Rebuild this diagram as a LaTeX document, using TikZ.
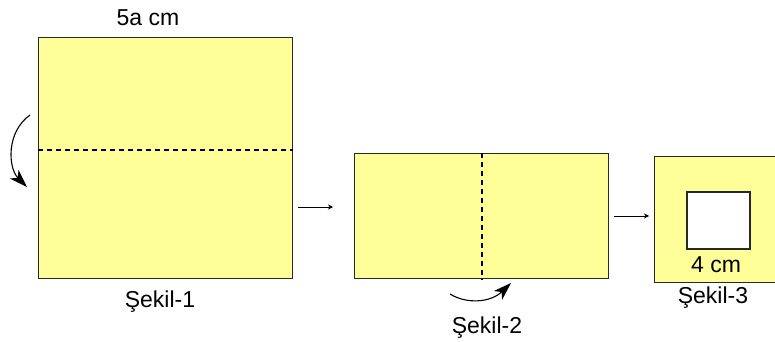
\documentclass[tikz,border=0pt]{standalone}
\usepackage{fontspec}
\setmainfont{Liberation Sans}
\usetikzlibrary{positioning,arrows.meta}
\definecolor{paper}{RGB}{255,255,153}
\definecolor{edge}{RGB}{40,40,40}

\begin{document}
\begin{tikzpicture}[x=1pt,y=-1pt,
    sheet/.style={draw=edge,fill=paper,line width=1.2pt,inner sep=0pt,anchor=north west},
    fold/.style={line width=1.3pt,dash pattern=on 5pt off 4pt},
    lbl/.style={font=\fontsize{23}{27}\selectfont,inner sep=0pt,anchor=base},
    move/.style={line width=1pt,-{Stealth[length=5pt,width=5pt]}},
    turn/.style={line width=1.1pt,-{Stealth[length=18pt,width=12pt,inset=5pt]}}]
 \useasboundingbox (0,0) rectangle (775,342);
 \clip (0,0) rectangle (775,342);
 % the three sheets
 \node[sheet,minimum width=254pt,minimum height=241pt] (sheet1) at (38,37) {};
 \node[sheet,minimum width=254pt,minimum height=125pt] (sheet2) at (354,153) {};
 \node[sheet,minimum width=126pt,minimum height=126pt] (sheet3) at (654,156) {};
 \node[draw=edge,fill=white,line width=1.2pt,inner sep=0pt,
  minimum width=63pt,minimum height=57pt] (hole) at (718.5,220.5) {};
 % fold lines
 \draw[fold] ([yshift=-113pt]sheet1.north west) -- ([yshift=-113pt]sheet1.north east);
 \draw[fold] ([xshift=128pt]sheet2.north west) -- ([xshift=128pt]sheet2.south west);
 % texts
 \node[lbl] (side) at (148,26) {5a cm};
 \node[lbl] (cap1) at (160,307) {Şekil-1};
 \node[lbl] (cap2) at (487,333) {Şekil-2};
 \node[lbl] (cap3) at (713,303) {Şekil-3};
 \node[lbl] (holeside) at (716,272) {4 cm};
 % steps
 \draw[move,shorten <=5pt,shorten >=21pt] (sheet1.east |- 0,207) -- (sheet2.west |- 0,207);
 \draw[move,shorten <=5pt,shorten >=5pt] (sheet2.east |- 0,216) -- (sheet3.west |- 0,216);
 % folding turns
 \coordinate (turn1a) at (30,115);
 \coordinate (turn1b) at (27,187);
 \draw[turn] (turn1a) .. controls (6,132) and (8,168) .. (turn1b);
 \coordinate (turn2a) at (450,294);
 \coordinate (turn2b) at (511,283);
 \draw[turn] (turn2a) .. controls (466,304) and (490,303) .. (turn2b);
\end{tikzpicture}
\end{document}
